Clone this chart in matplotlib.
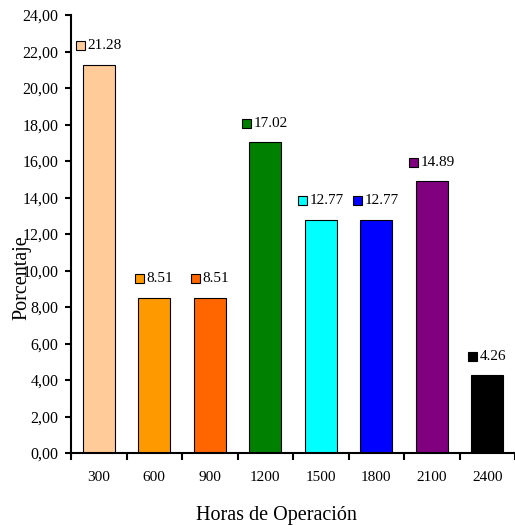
import matplotlib
matplotlib.use("Agg")
import matplotlib.pyplot as plt
from matplotlib.offsetbox import AnnotationBbox, DrawingArea, TextArea, HPacker
from matplotlib.patches import Rectangle
from matplotlib.ticker import FixedLocator, FuncFormatter

horas = ["300", "600", "900", "1200", "1500", "1800", "2100", "2400"]
porcentaje = [21.28, 8.51, 8.51, 17.02, 12.77, 12.77, 14.89, 4.26]
colores = ["#FFCC99", "#FF9900", "#FF6600", "#008000",
           "#00FFFF", "#0000FF", "#800080", "#000000"]
y_ticks = [0, 2, 4, 6, 8, 10, 12, 14, 16, 18, 20, 22, 24]

plt.rcParams["font.family"] = ["Liberation Serif", "DejaVu Serif"]

fig = plt.figure(figsize=(5.15, 5.25), dpi=100)
ax = fig.add_axes([71 / 515, 1 - 453 / 525, 444 / 515, 438 / 525])

pos = [i + 0.5 for i in range(len(horas))]
ax.bar(pos, porcentaje, width=0.58, color=colores, edgecolor="black", linewidth=0.8)

# value labels with a small colour key in front of each number
for x, v, c in zip(pos, porcentaje, colores):
    da = DrawingArea(6.5, 6.5, 0, 0)
    da.add_artist(Rectangle((0, 0), 6.5, 6.5, facecolor=c, edgecolor="black", linewidth=0.8))
    ta = TextArea(f"{v:.2f}", textprops=dict(fontsize=11, color="black"))
    box = HPacker(children=[da, ta], align="center", pad=0, sep=2)
    ab = AnnotationBbox(box, (x, v + 1.05), frameon=False, box_alignment=(0.5, 0.5))
    ax.add_artist(ab)

ax.set_xlim(0, 8)
ax.set_ylim(0, 24)
ax.set_yticks(y_ticks)
ax.yaxis.set_major_formatter(FuncFormatter(lambda v, _: f"{v:.2f}".replace(".", ",")))

# category boundaries get the tick marks, centres get the labels
ax.xaxis.set_major_locator(FixedLocator(list(range(0, 9))))
ax.set_xticklabels([])
ax.set_xticks(pos, minor=True)
ax.set_xticklabels(horas, minor=True)
ax.tick_params(axis="x", which="major", direction="out", length=5, width=1.5)
ax.tick_params(axis="x", which="minor", length=0, pad=13, labelsize=11)
ax.tick_params(axis="y", direction="out", length=4, width=1.5, pad=5, labelsize=11.5)

for s in ["top", "right"]:
    ax.spines[s].set_visible(False)
for s in ["left", "bottom"]:
    ax.spines[s].set_linewidth(1.5)

ax.set_ylabel("Porcentaje", fontsize=14.5, va="center")
ax.yaxis.set_label_coords(-0.11, 0.40)
ax.set_xlabel("Horas de Operación", fontsize=14.5, va="center")
ax.xaxis.set_label_coords(0.462, -0.1416)

fig.savefig("out.png", dpi=100)
